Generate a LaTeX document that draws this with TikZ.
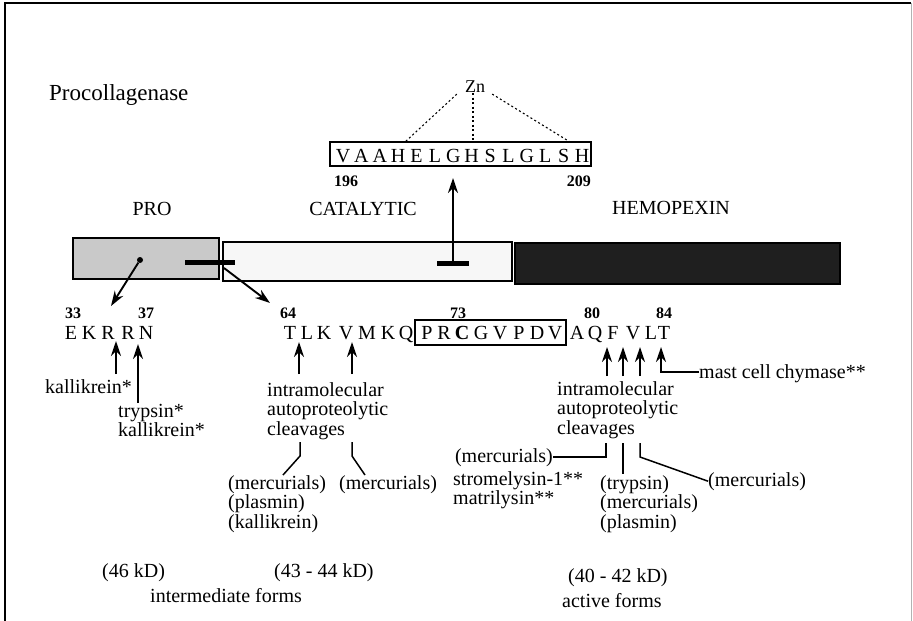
\documentclass[tikz,border=0pt]{standalone}
\usepackage{fontspec}
\setmainfont{Liberation Serif}
\usetikzlibrary{arrows.meta}
\begin{document}
\begin{tikzpicture}[x=1pt,y=-1pt,
  txt/.style={inner sep=0pt, font=\fontsize{20}{20}\selectfont},
  lbl/.style={txt, anchor=base west},
  blk/.style={inner sep=0pt, anchor=north west, align=left, font=\fontsize{20}{19.5}\selectfont},
  num/.style={inner sep=0pt, font=\fontsize{16}{16}\selectfont\bfseries, anchor=base},
  seq/.style={inner sep=0pt, font=\fontsize{20}{20}\selectfont, anchor=base},
  arr/.style={line width=1.9pt, -{Stealth[length=15pt,width=10pt]}},
  ln/.style={line width=1.5pt},
  dotl/.style={line width=1.1pt, dash pattern=on 2pt off 2.5pt},
  barl/.style={line width=5pt},
  dom/.style={draw, line width=1.4pt, inner sep=0pt}]
\useasboundingbox (0,0) rectangle (913,621);
% frame
\draw[line width=1.2pt] (5,621) -- (5,3) -- (911,3);
\draw[line width=1.5pt, black!30] (911.5,3) -- (911.5,621);

% title
\node[lbl, font=\fontsize{23}{23}\selectfont] (title) at (49,100) {Procollagenase};

% zinc binding motif
\node[inner sep=0pt, font=\fontsize{18}{18}\selectfont] (zn) at (475,87) {Zn};
\node[dom, minimum width=261pt, minimum height=24pt] (zbox) at (460.5,154) {};
\foreach \L [count=\i from 0] in {V,A,A,H,E,L,G,H,S,L,G,L,S,H}
  \node[seq] (z\i) at ({343+18.385*\i},162) {\L};
\node[num, anchor=base west] (n196) at (334,186) {196};
\node[num, anchor=base east] (n209) at (591,186) {209};
\coordinate (zl) at (405,142);
\coordinate (zm) at (473,142);
\coordinate (zr) at (570,142);
\draw[dotl] ([xshift=-8pt,yshift=-1pt]zn.south west) -- (zl);
\draw[dotl] (zn.south -| zm) -- (zm);
\draw[dotl] ([xshift=7pt,yshift=-1pt]zn.south east) -- (zr);

% domain labels
\node[txt] (lpro) at (152,209) {PRO};
\node[txt] (lcat) at (363,209) {CATALYTIC};
\node[txt] (lhem) at (671,208) {HEMOPEXIN};

% domains
\node[dom, fill=gray!42, minimum width=146pt, minimum height=41pt] (pro) at (146,258.5) {};
\node[dom, fill=gray!6, minimum width=289pt, minimum height=39pt] (cat) at (367.5,261.5) {};
\node[dom, fill=black!88, minimum width=325pt, minimum height=41pt] (hem) at (677.5,263.5) {};

% markers
\node[fill=black, circle, inner sep=0pt, minimum size=6pt] (blob) at (140,260) {};
\coordinate (barL) at (185,262);
\coordinate (barR) at (235,262);
\draw[barl] (barL) -- (barR);
\coordinate (catL) at (437,263);
\coordinate (catR) at (469,263);
\coordinate (catM) at (453,263);
\draw[barl] (catL) -- (catR);
\coordinate (catTip) at (453,178);
\draw[arr] (catM) -- (catTip);
\coordinate (tipA) at (111,306);
\draw[arr] (blob) -- (tipA);
\coordinate (startB) at (224,268);
\coordinate (tipB) at (270,303);
\draw[arr] (startB) -- (tipB);

% residue numbers
\node[num] (n33) at (73,318) {33};
\node[num] (n37) at (146,318) {37};
\node[num] (n64) at (288,318) {64};
\node[num] (n73) at (458,318) {73};
\node[num] (n80) at (592,318) {80};
\node[num] (n84) at (664,318) {84};

% sequences
\foreach \x/\L [count=\i] in {71/E,89/K,108/R,128/R,146/N}
  \node[seq] (a\i) at (\x,339) {\L};
\foreach \x/\L [count=\i] in {290/T,307/L,324/K,346/V,367/M,388/K,406/Q}
  \node[seq] (b\i) at (\x,339) {\L};
\node[dom, minimum width=151pt, minimum height=25pt] (cbox) at (490.5,332.5) {};
\foreach \x/\L [count=\i] in {427/P,444/R,462/\textbf{C},481/G,500/V,519/P,537/D,555/V}
  \node[seq] (c\i) at (\x,339) {\L};
\foreach \x/\L [count=\i] in {577/A,595/Q,613/F,633/V,651/L,664/T}
  \node[seq] (d\i) at (\x,339) {\L};

% arrows under PRO sequence
\coordinate (k1t) at (116,374); \coordinate (k1h) at (116,341);
\draw[arr] (k1t) -- (k1h);
\coordinate (k2t) at (138,403); \coordinate (k2h) at (138,344);
\draw[arr] (k2t) -- (k2h);
\node[lbl] (kal) at (45,393) {kallikrein*};
\node[blk] (tryk) at (118,404) {trypsin*\\kallikrein*};

% arrows under 64 sequence
\coordinate (m1t) at (299,374); \coordinate (m1h) at (299,342);
\coordinate (m2t) at (352,374); \coordinate (m2h) at (352,342);
\draw[arr] (m1t) -- (m1h);
\draw[arr] (m2t) -- (m2h);
\node[blk] (intraL) at (267,382) {intramolecular\\autoproteolytic\\cleavages};
\coordinate (bl1a) at (300,442); \coordinate (bl1b) at (300,456); \coordinate (bl1c) at (283,475);
\coordinate (bl2a) at (352,442); \coordinate (bl2b) at (352,456); \coordinate (bl2c) at (365,475);
\draw[ln] (bl1a) -- (bl1b) -- (bl1c);
\draw[ln] (bl2a) -- (bl2b) -- (bl2c);
\node[blk] (listL) at (228,475) {(mercurials)\\(plasmin)\\(kallikrein)};
\node[lbl] (merL2) at (339,489) {(mercurials)};

% arrows under 80 sequence
\coordinate (r1t) at (607,376); \coordinate (r1h) at (607,347);
\coordinate (r2t) at (623,376); \coordinate (r2h) at (623,347);
\coordinate (r3t) at (640,376); \coordinate (r3h) at (640,347);
\coordinate (r4t) at (661,372); \coordinate (r4h) at (661,347);
\draw[arr] (r1t) -- (r1h);
\draw[arr] (r2t) -- (r2h);
\draw[arr] (r3t) -- (r3h);
\node[lbl] (mast) at (699,378) {mast cell chymase**};
\draw[arr] (mast.base west |- r4t) -- (r4t) -- (r4h);
\node[blk] (intraR) at (557,381) {intramolecular\\autoproteolytic\\cleavages};

\node[lbl, anchor=base east] (merR1) at (553,462) {(mercurials)};
\node[blk] (strom) at (453,471) {stromelysin-1**\\matrilysin**};
\node[blk] (listR) at (600,475) {(trypsin)\\(mercurials)\\(plasmin)};
\node[lbl] (merR3) at (708,486) {(mercurials)};
\coordinate (br1a) at (606,443); \coordinate (br1b) at (606,457);
\coordinate (br2a) at (623,443); \coordinate (br2b) at (623,474);
\coordinate (br3a) at (640,443); \coordinate (br3b) at (640,457);
\draw[ln] (br1a) -- (br1b) -- (merR1.east |- br1b);
\draw[ln] (br2a) -- (br2b);
\draw[ln] (br3a) -- (br3b) -- (merR3.west);

% bottom
\node[lbl] (kd46) at (102,577) {(46 kD)};
\node[lbl] (kd43) at (274,577) {(43 - 44 kD)};
\node[lbl] (kd40) at (568,582) {(40 - 42 kD)};
\node[lbl] (inter) at (150,602) {intermediate forms};
\node[lbl] (active) at (562,607) {active forms};
\end{tikzpicture}
\end{document}
